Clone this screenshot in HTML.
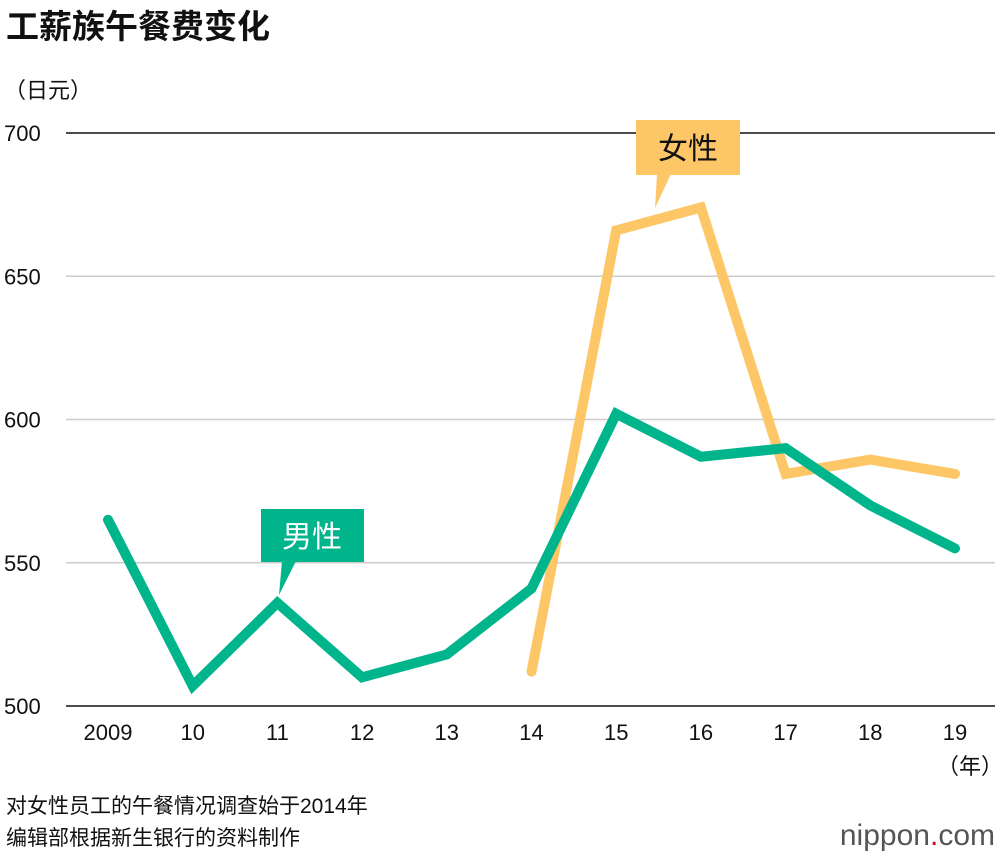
<!DOCTYPE html>
<html><head><meta charset="utf-8"><style>
body{margin:0;background:#fff;width:1000px;height:856px;overflow:hidden;font-family:"Liberation Sans","Noto Sans CJK SC",sans-serif}
</style></head><body>
<svg id="chart" width="1000" height="856" style="font-family:'Liberation Sans','Noto Sans CJK SC',sans-serif">
<text x="6" y="38" font-size="33" font-weight="bold" fill="#111">工薪族午餐费变化</text>
<text x="4" y="98" font-size="22" fill="#111">（日元）</text>
<g id="grid"></g><g id="lines"></g>
<g>
<rect x="261" y="509" width="103" height="53" fill="#00b48c"/>
<polygon points="282,561 296,561 279,595" fill="#00b48c"/>
<text x="312" y="547" font-size="30" fill="#fff" text-anchor="middle">男性</text></g>
<g>
<rect x="636" y="120" width="104" height="55" fill="#fdc768"/>
<polygon points="657,174 671,174 655,208" fill="#fdc768"/>
<text x="688" y="159" font-size="30" fill="#111" text-anchor="middle">女性</text></g>
<text x="970" y="774" font-size="22" fill="#111" text-anchor="middle">（年）</text>
<text x="6" y="813" font-size="21" fill="#111">对女性员工的午餐情况调查始于2014年</text>
<text x="6" y="845" font-size="21" fill="#111">编辑部根据新生银行的资料制作</text>
<text x="995" y="845" font-size="30" fill="#555" text-anchor="end">nippon<tspan fill="#e60012">.</tspan>com</text>
</svg>
<script>
const categories=["2009","10","11","12","13","14","15","16","17","18","19"];
const maleValues=[565,507,536,510,518,541,602,587,590,570,555];
const femaleValues=[null,null,null,null,null,512,666,674,581,586,581];
const yTicks=[500,550,600,650,700];
const NS="http://www.w3.org/2000/svg";
const xS=i=>108+i*(955-108)/(categories.length-1);
const yS=v=>706-(v-500)*(706-133)/200;
const grid=document.getElementById('grid'),lines=document.getElementById('lines');
function mk(t,a,p){const e=document.createElementNS(NS,t);for(const k in a)e.setAttribute(k,a[k]);p.appendChild(e);return e;}
yTicks.forEach(v=>{
 const l=mk('line',{x1:66,x2:995,y1:yS(v),y2:yS(v),stroke:(v===500||v===700)?'#111':'#ccc','stroke-width':1.5},grid);
 
 
 const t=mk('text',{x:4,y:yS(v)+8,'font-size':22,fill:'#111'},grid);t.textContent=v;
 
 
});
categories.forEach((c,i)=>{
 const t=mk('text',{x:xS(i),y:740,'font-size':22,fill:'#111','text-anchor':'middle'},grid);t.textContent=c;
 
 
});
function pts(arr){return arr.map((v,i)=>v==null?null:xS(i)+','+yS(v)).filter(Boolean).join(' ');}
const f=mk('polyline',{points:pts(femaleValues),fill:'none',stroke:'#fdc768','stroke-width':10,'stroke-linejoin':'miter','stroke-linecap':'round'},lines);


const m=mk('polyline',{points:pts(maleValues),fill:'none',stroke:'#00b48c','stroke-width':10,'stroke-linejoin':'miter','stroke-linecap':'round'},lines);


</script>
</body></html>
